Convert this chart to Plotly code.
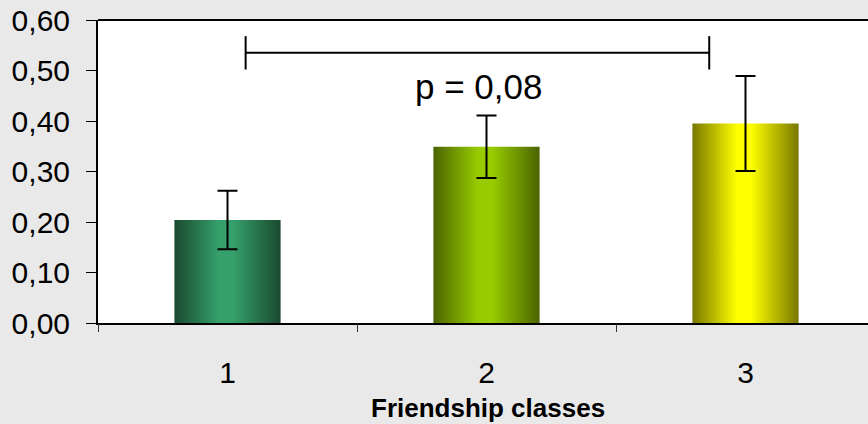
import plotly.graph_objects as go

# ---- data ----
categories = ["1", "2", "3"]
means = [0.204, 0.349, 0.395]
errors = [0.058, 0.062, 0.094]
edge_colors = ["#1a4a2e", "#4a6400", "#777700"]
mid_colors = ["#35a06c", "#99cc00", "#ffff00"]
y_ticks = [0.0, 0.1, 0.2, 0.3, 0.4, 0.5, 0.6]
bracket_x = [0.07, 1.86]
bracket_y = 0.535
bracket_tick = 0.033
p_label = "p = 0,08"
p_pos = [0.97, 0.468]
x_title = "Friendship classes"

BAR_W = 0.41
FONT = "Arial, Liberation Sans, sans-serif"

fig = go.Figure()
xs = list(range(len(categories)))

# gradient bars
for i, (m, e0, c0) in enumerate(zip(means, edge_colors, mid_colors)):
    x0, x1 = xs[i] - BAR_W / 2, xs[i] + BAR_W / 2
    fig.add_trace(go.Scatter(
        x=[x0, x1, x1, x0, x0], y=[0, 0, m, m, 0],
        mode="lines", line=dict(width=0), fill="toself",
        fillgradient=dict(type="horizontal", start=x0, stop=x1,
                          colorscale=[[0, e0], [0.42, c0], [0.55, c0], [1, e0]]),
        hoverinfo="skip", showlegend=False))

# error bars
fig.add_trace(go.Scatter(
    x=xs, y=means, mode="markers", marker=dict(size=0.1, color="rgba(0,0,0,0)"),
    error_y=dict(type="data", array=errors, visible=True, color="black",
                 thickness=2, width=10),
    showlegend=False, hoverinfo="skip"))

# significance bracket
fig.add_trace(go.Scatter(
    x=[bracket_x[0], bracket_x[0], None, bracket_x[0], bracket_x[1], None, bracket_x[1], bracket_x[1]],
    y=[bracket_y - bracket_tick, bracket_y + bracket_tick, None, bracket_y, bracket_y, None,
       bracket_y - bracket_tick, bracket_y + bracket_tick],
    mode="lines", line=dict(color="black", width=2), showlegend=False, hoverinfo="skip"))

fig.add_annotation(x=p_pos[0], y=p_pos[1], text=p_label, showarrow=False,
                   font=dict(family=FONT, size=35, color="black"),
                   xanchor="center", yanchor="middle")

fig.add_annotation(x=0.507, xref="paper", y=-0.28, yref="paper", text="<b>" + x_title + "</b>",
                   showarrow=False, font=dict(family=FONT, size=26, color="black"),
                   xanchor="center", yanchor="middle")

# top border
fig.add_shape(type="line", xref="paper", yref="paper", x0=0, x1=1, y0=1, y1=1,
              line=dict(color="black", width=2))

fig.update_layout(
    width=868, height=424,
    margin=dict(l=98, r=0, t=20, b=101),
    paper_bgcolor="#e9e9e9", plot_bgcolor="white",
    separators=",.",
    font=dict(family=FONT, color="black"),
    xaxis=dict(range=[-0.5, 2.473], tickvals=xs, ticktext=categories,
               ticks="", showgrid=False, zeroline=False,
               showline=True, linecolor="black", linewidth=2,
               tickfont=dict(size=30), ticklabelstandoff=22),
    xaxis2=dict(overlaying="x", matches="x", range=[-0.5, 2.473],
                tickvals=[-0.5, 0.5, 1.5, 2.5], showticklabels=False,
                ticks="outside", ticklen=8, tickwidth=1, tickcolor="#333",
                showgrid=False, zeroline=False, showline=False, side="bottom"),
    yaxis=dict(range=[0, 0.6], tickvals=y_ticks, tickformat=".2f",
               ticks="outside", ticklen=10, tickwidth=1, tickcolor="black",
               showgrid=False, zeroline=False, showline=True, linecolor="black",
               linewidth=2, tickfont=dict(size=30), ticklabelstandoff=10),
)
# dummy trace to activate xaxis2
fig.add_trace(go.Scatter(x=[0], y=[0], xaxis="x2", mode="markers",
                         marker=dict(size=0.1, color="rgba(0,0,0,0)"),
                         showlegend=False, hoverinfo="skip"))

fig.write_html("out.html", config={"displayModeBar": False},
               post_script="document.body.style.margin='0';document.body.style.padding='0';document.body.style.overflow='hidden';")
